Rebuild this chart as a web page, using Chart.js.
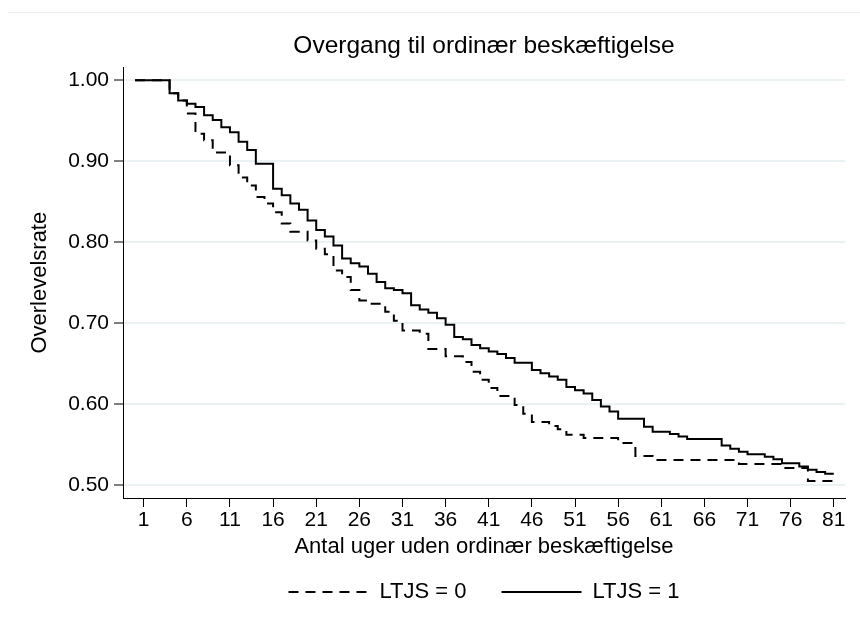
<!DOCTYPE html>
<html>
  <head>
    <title>Overgang til ordinær beskæftigelse</title>
    <script src="https://cdn.jsdelivr.net/npm/chart.js"></script>
    <style>
      html, body { margin: 0; padding: 0; background: #fff; }
    </style>
  </head>
  <body>
    <canvas id="myChart" width="860" height="632"></canvas>

    <script>
      // Kaplan-Meier steps (week, survival)
      const weeks0 = [0, 4, 5, 6, 7, 8, 9, 11, 12, 13, 14, 15, 16, 17, 18, 20, 21, 22, 23, 24, 25, 26, 27, 29, 30, 31, 33, 34, 36, 38, 39, 40, 41, 42, 44, 45, 46, 48, 49, 50, 52, 56, 58, 60, 70, 75, 78, 81];
      const surv0 = [1.000, 0.984, 0.975, 0.959, 0.934, 0.926, 0.911, 0.895, 0.880, 0.870, 0.856, 0.848, 0.837, 0.823, 0.813, 0.802, 0.792, 0.785, 0.765, 0.757, 0.741, 0.728, 0.724, 0.714, 0.703, 0.691, 0.687, 0.668, 0.659, 0.652, 0.640, 0.630, 0.620, 0.610, 0.599, 0.588, 0.578, 0.573, 0.569, 0.562, 0.558, 0.552, 0.536, 0.531, 0.526, 0.521, 0.505, 0.505];

      const weeks1 = [0, 4, 5, 6, 7, 8, 9, 10, 11, 12, 13, 14, 16, 17, 18, 19, 20, 21, 22, 23, 24, 25, 26, 27, 28, 29, 30, 31, 32, 33, 34, 35, 36, 37, 38, 39, 40, 41, 42, 43, 44, 46, 47, 48, 49, 50, 51, 52, 53, 54, 55, 56, 59, 60, 62, 63, 64, 68, 69, 70, 71, 73, 74, 75, 77, 78, 79, 80, 81];
      const surv1 = [1.000, 0.984, 0.975, 0.971, 0.967, 0.957, 0.951, 0.942, 0.936, 0.924, 0.914, 0.897, 0.866, 0.858, 0.848, 0.840, 0.827, 0.815, 0.807, 0.796, 0.780, 0.774, 0.770, 0.761, 0.751, 0.743, 0.741, 0.737, 0.722, 0.717, 0.713, 0.706, 0.698, 0.683, 0.680, 0.673, 0.669, 0.665, 0.662, 0.657, 0.651, 0.642, 0.638, 0.634, 0.630, 0.621, 0.617, 0.613, 0.605, 0.597, 0.591, 0.582, 0.572, 0.566, 0.563, 0.560, 0.557, 0.549, 0.545, 0.541, 0.538, 0.535, 0.532, 0.527, 0.523, 0.519, 0.516, 0.514, 0.514];

      const xTicks = [1, 6, 11, 16, 21, 26, 31, 36, 41, 46, 51, 56, 61, 66, 71, 76, 81];
      const yTicks = [0.5, 0.6, 0.7, 0.8, 0.9, 1.0];

      const toPoints = (xs, ys) => xs.map((x, i) => ({ x: x, y: ys[i] }));

      Chart.defaults.font.family = "'Liberation Sans', Arial, sans-serif";
      Chart.defaults.color = "#000";

      // faint outer frame line at the top of the graph region
      const framePlugin = {
        id: "frame",
        beforeDraw(chart) {
          const c = chart.ctx;
          c.save();
          c.strokeStyle = "#ececec";
          c.lineWidth = 1;
          c.beginPath();
          c.moveTo(8, 12.5);
          c.lineTo(chart.width, 12.5);
          c.stroke();
          c.restore();
        },
      };

      const ctx = document.getElementById("myChart").getContext("2d");
      const myChart = new Chart(ctx, {
        type: "line",
        data: {
          datasets: [
            {
              label: "LTJS = 0",
              data: toPoints(weeks0, surv0),
              borderColor: "#000",
              backgroundColor: "#000",
              borderWidth: 2,
              borderDash: [10, 7],
              stepped: true,
              pointRadius: 0,
              fill: false,
            },
            {
              label: "LTJS = 1",
              data: toPoints(weeks1, surv1),
              borderColor: "#000",
              backgroundColor: "#000",
              borderWidth: 2,
              stepped: true,
              pointRadius: 0,
              fill: false,
            },
          ],
        },
        options: {
          responsive: false,
          animation: false,
          layout: { padding: { left: 0, right: 15, top: 0, bottom: 19 } },
          plugins: {
            tooltip: { enabled: false },
            title: {
              display: true,
              text: "Overgang til ordinær beskæftigelse",
              fullSize: false,
              font: { size: 24.5, weight: "normal" },
              padding: { top: 32, bottom: 6 },
            },
            legend: {
              position: "bottom",
              fullSize: false,
              labels: {
                usePointStyle: true,
                pointStyle: "line",
                pointStyleWidth: 80,
                font: { size: 22 },
                padding: 35,
                generateLabels: (chart) =>
                  Chart.defaults.plugins.legend.labels.generateLabels(chart).map((item) => {
                    const ds = chart.data.datasets[item.datasetIndex];
                    item.lineDash = ds.borderDash || [];
                    item.lineWidth = ds.borderWidth;
                    item.strokeStyle = ds.borderColor;
                    return item;
                  }),
              },
            },
          },
          scales: {
            x: {
              type: "linear",
              min: -1.4,
              max: 82.3,
              afterBuildTicks: (scale) => {
                scale.ticks = xTicks.map((v) => ({ value: v }));
              },
              afterFit: (scale) => {
                scale.height = 48;
              },
              ticks: {
                font: { size: 21 },
                padding: 1,
                maxRotation: 0,
                autoSkip: false,
                callback: (v) => String(v),
              },
              grid: {
                drawOnChartArea: false,
                tickLength: 9,
                tickColor: "#000",
              },
              border: { color: "#000", width: 1 },
              title: {
                display: true,
                text: "Antal uger uden ordinær beskæftigelse",
                font: { size: 22 },
                padding: { top: 0, bottom: -14 },
              },
            },
            y: {
              min: 0.484,
              max: 1.016,
              afterBuildTicks: (scale) => {
                scale.ticks = yTicks.map((v) => ({ value: v }));
              },
              afterFit: (scale) => {
                scale.width = 123;
              },
              ticks: {
                font: { size: 21 },
                padding: 5,
                callback: (v) => Number(v).toFixed(2),
              },
              grid: {
                color: "#eaf2f3",
                lineWidth: 2,
                tickLength: 9,
                tickColor: "#000",
                tickWidth: 1,
              },
              border: { color: "#000", width: 1 },
              title: {
                display: true,
                text: "Overlevelsrate",
                font: { size: 22 },
                padding: { top: 27, bottom: 0 },
              },
            },
          },
        },
        plugins: [framePlugin],
      });
    </script>
  </body>
</html>
